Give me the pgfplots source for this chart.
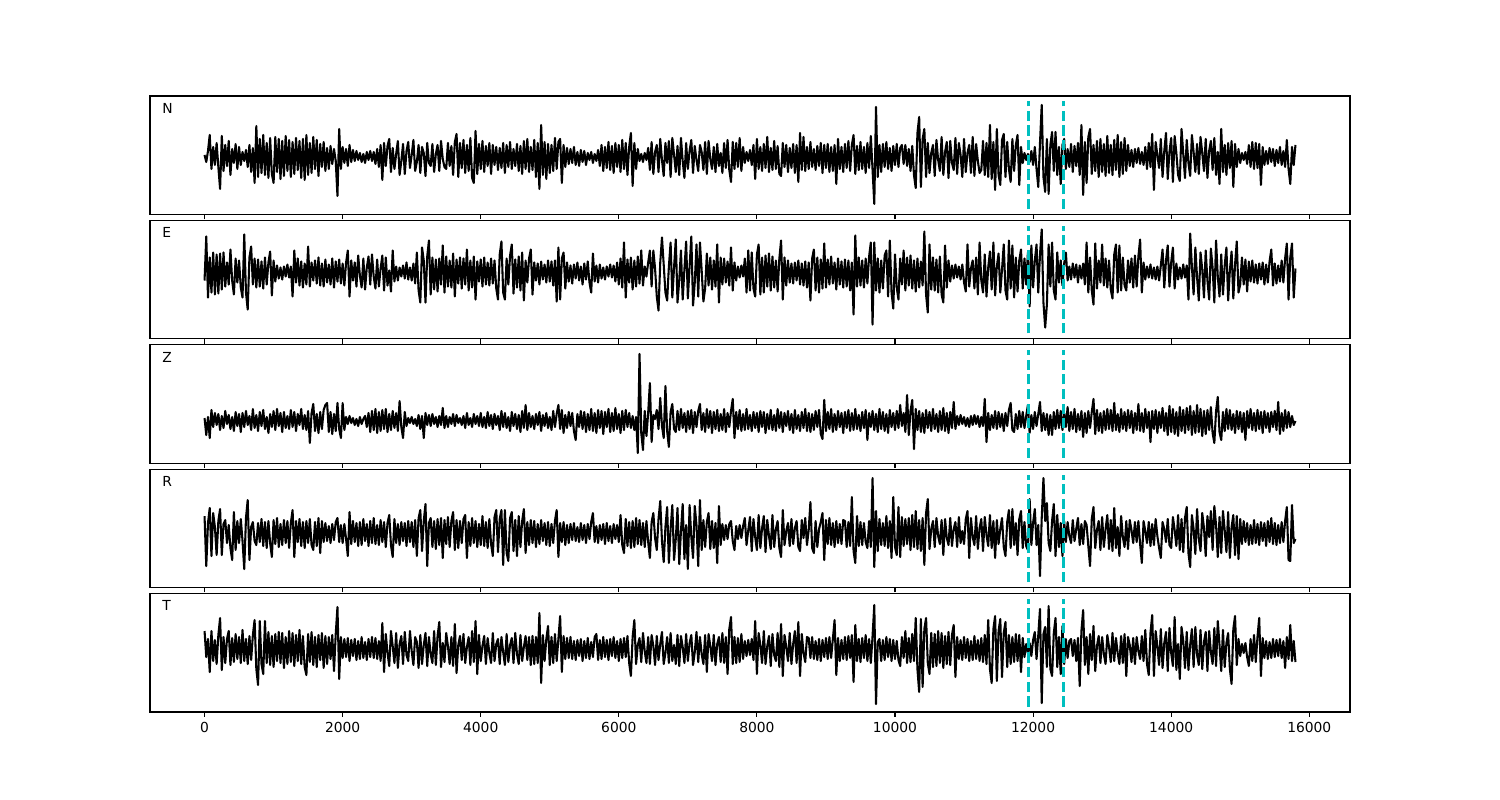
\documentclass[border=0pt]{standalone}
\usepackage{fontspec}
\setmainfont{DejaVu Sans}
\usepackage{pgfplots}
\usepackage{pgfplotstable}
\pgfplotsset{compat=1.18}
\definecolor{mplcyan}{rgb}{0,0.75,0.75}

% samples every 25 units, x = 0 ... 15800; amplitudes in plot units
\pgfplotstableread[row sep=\\]{
y\\
2\\-5\\6\\22\\-12\\10\\-8\\14\\-10\\-32\\
21\\-14\\12\\-9\\16\\-18\\8\\-6\\13\\-12\\
10\\-8\\5\\-4\\7\\-10\\12\\-15\\9\\-26\\
31\\-20\\18\\-16\\22\\-18\\14\\-21\\19\\-17\\
-26\\20\\-15\\18\\-22\\16\\-19\\21\\-14\\17\\
-20\\15\\-17\\19\\-13\\16\\-21\\18\\-23\\22\\
-18\\14\\-16\\20\\-12\\17\\-19\\13\\-10\\15\\
-14\\9\\-12\\11\\-7\\8\\-4\\-39\\28\\-12\\
10\\-6\\8\\-9\\12\\-5\\7\\-4\\6\\-3\\
4\\-5\\3\\-6\\5\\-3\\6\\-4\\5\\-7\\
8\\-10\\12\\-23\\14\\-9\\11\\18\\-15\\9\\
-12\\3\\16\\-18\\-4\\13\\-17\\6\\15\\-11\\
2\\17\\-14\\-5\\12\\-16\\10\\4\\-19\\14\\
-6\\-9\\13\\-15\\3\\12\\-14\\16\\-2\\-10\\
-12\\14\\-9\\11\\-18\\15\\23\\-20\\14\\-11\\
17\\-16\\12\\-14\\19\\-21\\-26\\26\\-17\\13\\
-12\\16\\-15\\11\\-9\\14\\-17\\12\\-8\\10\\
-13\\9\\-11\\14\\-16\\12\\-10\\15\\-12\\8\\
-9\\13\\-14\\11\\-17\\16\\-12\\18\\-15\\10\\
-13\\17\\-20\\14\\-32\\32\\-18\\15\\-22\\13\\
-16\\12\\-14\\19\\-12\\15\\18\\-26\\12\\-10\\
9\\-7\\8\\-6\\10\\-8\\5\\-9\\7\\-5\\
6\\-8\\4\\-3\\5\\-6\\3\\-4\\7\\-9\\
12\\-14\\10\\-11\\15\\-13\\11\\-16\\14\\-10\\
12\\-15\\17\\-12\\14\\-18\\10\\24\\-29\\14\\
-12\\8\\-4\\3\\-5\\4\\-3\\9\\-13\\15\\
-17\\5\\12\\-15\\18\\-3\\-19\\14\\-6\\16\\
-20\\19\\2\\-15\\11\\-18\\19\\-4\\-21\\14\\
-12\\6\\17\\-16\\11\\-3\\-14\\12\\5\\-13\\
15\\-17\\16\\-2\\-12\\10\\-15\\13\\-9\\4\\
-16\\14\\-11\\17\\-13\\-25\\15\\-12\\14\\-10\\
19\\-14\\10\\-6\\5\\-4\\7\\-8\\12\\-22\\
18\\-12\\10\\-14\\13\\-11\\20\\-15\\9\\-13\\
16\\-12\\11\\-17\\-19\\14\\-10\\12\\-15\\9\\
-11\\13\\-16\\12\\-25\\24\\-13\\20\\-14\\10\\
-12\\15\\-10\\8\\-13\\11\\-9\\14\\-16\\12\\
-11\\13\\-15\\10\\-14\\12\\-27\\18\\-12\\10\\
-15\\13\\-11\\16\\-14\\12\\22\\-17\\11\\-13\\
15\\-12\\10\\-16\\14\\-11\\21\\-13\\-47\\50\\
-20\\12\\-15\\13\\-10\\15\\-12\\9\\-14\\11\\
-8\\13\\-10\\9\\12\\-7\\12\\-9\\8\\-14\\
11\\-18\\-31\\24\\40\\-30\\18\\28\\-20\\14\\
-16\\4\\12\\-19\\17\\-3\\-14\\20\\-18\\5\\
15\\-21\\16\\-6\\-13\\19\\-17\\14\\2\\-20\\
18\\-15\\4\\12\\-16\\20\\-19\\13\\-4\\-16\\
-13\\16\\-18\\14\\-20\\32\\-22\\15\\-33\\28\\
-18\\-28\\17\\23\\-20\\15\\-12\\-25\\18\\-14\\
12\\22\\-28\\10\\-6\\4\\-3\\3\\-5\\6\\
-8\\10\\-12\\-30\\14\\52\\-20\\-35\\18\\-37\\
12\\25\\-14\\25\\-18\\10\\-27\\12\\18\\-12\\
8\\-10\\13\\-15\\11\\-9\\14\\-18\\32\\-38\\
15\\-26\\20\\28\\-17\\12\\-14\\16\\-20\\18\\
-15\\13\\-19\\21\\-16\\12\\-18\\17\\-13\\22\\
-20\\15\\-17\\19\\-14\\12\\-9\\7\\-10\\8\\
-6\\9\\-7\\5\\-8\\10\\-12\\14\\-10\\23\\
-33\\15\\2\\-11\\18\\-20\\6\\24\\-22\\5\\
19\\-25\\21\\4\\-18\\-24\\28\\3\\-21\\17\\
-6\\-19\\22\\5\\-15\\13\\-17\\20\\4\\-14\\
18\\-21\\6\\16\\-13\\19\\-18\\5\\-27\\28\\
-15\\12\\-18\\14\\-11\\16\\-30\\13\\-10\\8\\
-6\\4\\-3\\5\\-7\\12\\-10\\15\\-12\\14\\
-11\\13\\-28\\10\\-8\\6\\-7\\9\\-5\\8\\
-9\\7\\-6\\10\\-8\\6\\-10\\17\\-12\\-27\\
10\\-8\\12\\
}\tN

\pgfplotstableread[row sep=\\]{
y\\
-8\\36\\-25\\15\\-20\\20\\-22\\18\\-21\\19\\
-17\\20\\-14\\10\\-12\\23\\-8\\-22\\14\\-10\\
12\\-15\\-25\\38\\-20\\-37\\15\\26\\-12\\14\\
-15\\13\\-14\\11\\-16\\15\\-12\\10\\21\\-23\\
12\\-9\\7\\-6\\5\\-7\\6\\-4\\8\\-5\\
6\\-24\\22\\-10\\14\\-13\\11\\-15\\9\\-12\\
26\\-14\\10\\-8\\12\\-11\\15\\-13\\9\\-14\\
13\\-10\\8\\-12\\14\\-15\\11\\-9\\13\\-11\\
9\\-13\\10\\22\\-24\\12\\-8\\10\\-14\\17\\
-3\\-15\\14\\-17\\5\\16\\-12\\18\\-4\\-16\\
13\\-14\\4\\17\\-18\\15\\-13\\2\\-19\\22\\
-9\\6\\-8\\5\\-4\\7\\-6\\10\\-7\\5\\
-8\\9\\-11\\20\\-18\\-30\\25\\12\\-30\\16\\
32\\-22\\15\\-17\\13\\-19\\14\\-12\\27\\-20\\
16\\-14\\12\\-15\\19\\-24\\13\\-11\\15\\-16\\
14\\-12\\23\\-18\\12\\-15\\16\\-27\\11\\-9\\
13\\-14\\15\\-12\\10\\-13\\14\\-11\\12\\-16\\
-27\\18\\31\\-20\\-27\\14\\-12\\17\\28\\-21\\
13\\-15\\16\\-18\\20\\-28\\12\\-10\\14\\23\\
-22\\10\\-8\\9\\-12\\11\\-7\\8\\-10\\12\\
-9\\11\\-13\\12\\-29\\25\\-27\\14\\20\\-16\\
10\\-9\\7\\-11\\8\\-6\\10\\-8\\6\\-12\\
9\\-7\\11\\-10\\-20\\19\\-9\\7\\-10\\8\\
-6\\5\\-7\\6\\-4\\8\\-5\\7\\-9\\10\\
-12\\14\\-15\\30\\-25\\13\\-10\\15\\-17\\12\\
-14\\16\\-11\\22\\-13\\6\\-4\\10\\22\\-14\\
22\\4\\-24\\-38\\10\\35\\8\\-20\\-28\\6\\
30\\-25\\5\\33\\-30\\-8\\22\\-27\\3\\31\\
-26\\6\\36\\-33\\-10\\28\\-24\\30\\2\\-29\\
-16\\19\\-13\\15\\-17\\12\\-14\\28\\-30\\15\\
-12\\14\\-10\\11\\-13\\25\\-18\\10\\-8\\6\\
-5\\7\\-4\\14\\-20\\22\\-18\\20\\-16\\-24\\
18\\28\\-22\\15\\-20\\17\\-14\\19\\-18\\16\\
-15\\12\\-19\\14\\32\\-27\\15\\-13\\12\\-10\\
9\\-11\\10\\-8\\12\\-12\\9\\-13\\11\\-15\\
10\\-28\\14\\23\\-18\\15\\-20\\13\\-16\\29\\
-15\\13\\-12\\16\\-11\\10\\-17\\14\\-12\\11\\
-15\\13\\-14\\12\\-18\\10\\-42\\37\\-14\\15\\
-13\\12\\-15\\14\\-11\\16\\30\\-52\\30\\-18\\
14\\-20\\12\\-16\\17\\22\\-24\\32\\-20\\-36\\
18\\-15\\-27\\14\\-12\\22\\-18\\15\\-13\\17\\
-16\\12\\-19\\14\\-15\\11\\-13\\41\\-22\\-40\\
28\\-17\\15\\-18\\13\\-20\\16\\-22\\-30\\27\\
-15\\12\\-9\\7\\-6\\8\\-5\\6\\-7\\8\\
-10\\-19\\28\\-14\\4\\12\\-16\\15\\-22\\30\\
-8\\-20\\18\\-24\\5\\21\\-17\\30\\-23\\6\\
19\\-20\\3\\28\\-18\\-27\\32\\-16\\27\\-25\\
15\\-19\\12\\23\\-16\\14\\-12\\20\\-34\\27\\
-15\\12\\28\\-20\\18\\43\\-30\\-55\\-32\\28\\
-14\\30\\-18\\-27\\20\\-10\\12\\-13\\9\\20\\
-8\\6\\-7\\9\\-5\\8\\-10\\7\\-6\\9\\
-12\\30\\-20\\15\\-18\\-32\\29\\-16\\12\\-10\\
28\\-13\\14\\-15\\12\\-17\\-26\\18\\28\\-20\\
27\\-18\\15\\-13\\-18\\12\\-10\\14\\-15\\17\\
-14\\16\\33\\-20\\10\\-7\\6\\-5\\8\\-6\\
5\\-7\\6\\-8\\7\\23\\-15\\12\\27\\-14\\
10\\25\\-16\\9\\-7\\5\\-6\\8\\-5\\7\\
-27\\39\\6\\-22\\25\\-5\\-28\\20\\3\\-25\\
22\\-8\\-27\\24\\5\\-30\\32\\-4\\-24\\18\\
-22\\7\\25\\-28\\2\\21\\-26\\8\\31\\-20\\
-12\\15\\-12\\13\\-19\\11\\-9\\12\\-10\\8\\
-11\\9\\-7\\10\\-12\\8\\-10\\11\\23\\-13\\
9\\-11\\7\\-9\\12\\-10\\14\\29\\-27\\15\\
29\\-25\\4\\
}\tE

\pgfplotstableread[row sep=\\]{
y\\
3\\-14\\4\\-17\\11\\-6\\8\\-4\\7\\-9\\
5\\-7\\10\\-3\\6\\-8\\4\\-10\\9\\-5\\
7\\-11\\8\\-6\\10\\-4\\5\\-9\\12\\-7\\
6\\-10\\9\\-5\\11\\-8\\4\\-12\\7\\-6\\
10\\-9\\12\\-5\\8\\-11\\9\\-7\\5\\-8\\
11\\-6\\9\\-10\\7\\-4\\12\\-8\\6\\-9\\
10\\-22\\8\\17\\-10\\7\\-12\\9\\-8\\11\\
16\\18\\-11\\9\\-13\\7\\-10\\18\\-8\\-17\\
18\\-9\\4\\-3\\5\\-2\\3\\-4\\2\\-5\\
4\\-3\\2\\5\\-6\\8\\-11\\10\\-9\\12\\
-12\\9\\-10\\11\\-8\\12\\-11\\7\\-9\\10\\
-7\\8\\-10\\20\\-6\\-17\\9\\-5\\3\\-2\\
4\\-3\\2\\-5\\6\\-8\\5\\-17\\8\\-4\\
6\\-5\\7\\-3\\4\\-6\\5\\-4\\13\\-7\\
5\\-6\\4\\-3\\7\\-5\\6\\-2\\3\\-4\\
5\\-7\\8\\-4\\3\\-6\\7\\-3\\5\\-5\\
8\\-6\\4\\-7\\9\\-5\\6\\-8\\7\\-4\\
5\\-9\\10\\-6\\8\\-7\\4\\-10\\9\\-5\\
7\\-8\\6\\-11\\10\\-7\\16\\-9\\8\\-6\\
5\\-8\\7\\-4\\9\\-10\\6\\-5\\8\\-7\\
4\\-9\\10\\-6\\7\\16\\-8\\11\\-12\\6\\
-7\\9\\-5\\8\\-10\\-19\\7\\-6\\10\\-8\\
9\\-11\\7\\-9\\12\\-10\\8\\-12\\11\\-7\\
10\\-13\\9\\-6\\12\\-11\\8\\-10\\13\\-8\\
7\\-12\\10\\-9\\11\\-6\\8\\-7\\5\\-9\\
4\\-32\\67\\-12\\-29\\10\\-15\\8\\38\\-21\\
6\\2\\11\\-8\\23\\-5\\-17\\35\\-10\\-26\\
9\\17\\-8\\-11\\10\\-9\\12\\-7\\8\\-11\\
10\\-8\\11\\-12\\9\\-6\\10\\17\\-9\\8\\
-11\\12\\-7\\10\\-12\\9\\-8\\11\\-10\\7\\
-9\\12\\-11\\8\\-6\\10\\22\\-17\\9\\-8\\
11\\-10\\7\\-9\\12\\-8\\6\\-10\\9\\-7\\
8\\-11\\10\\-6\\9\\-12\\7\\-8\\11\\-9\\
6\\-10\\12\\-7\\9\\-11\\8\\-5\\10\\-9\\
7\\-12\\11\\-8\\6\\-10\\9\\-7\\12\\-10\\
8\\-11\\7\\-9\\10\\-6\\11\\-13\\-18\\21\\
-10\\9\\-8\\12\\-11\\7\\-9\\10\\-6\\8\\
-12\\9\\-7\\11\\-10\\8\\-9\\12\\-8\\6\\
-10\\9\\-7\\11\\-19\\8\\-6\\10\\-9\\7\\
-11\\12\\-8\\9\\-10\\7\\-12\\11\\-6\\8\\
-9\\10\\-7\\16\\-5\\8\\-11\\26\\-14\\10\\
21\\-28\\12\\-9\\10\\-11\\8\\-12\\11\\-7\\
9\\-10\\12\\-8\\7\\-11\\10\\-9\\13\\-10\\
8\\-12\\9\\-7\\19\\-8\\5\\-4\\6\\-3\\
4\\-5\\3\\-6\\5\\-4\\6\\-3\\5\\-6\\
4\\-5\\22\\-21\\8\\-9\\6\\-7\\10\\-8\\
9\\-6\\7\\-10\\8\\-5\\11\\18\\-9\\-11\\
7\\-8\\10\\-6\\9\\-7\\5\\16\\-12\\6\\
-8\\9\\-5\\7\\19\\-10\\8\\-9\\7\\-14\\
6\\-14\\9\\-8\\11\\-7\\10\\-9\\8\\-6\\
14\\-10\\9\\-8\\12\\-11\\7\\-9\\10\\-16\\
8\\-12\\10\\-7\\9\\22\\-13\\11\\-10\\8\\
-12\\10\\-9\\12\\-8\\11\\-10\\18\\-9\\7\\
-11\\12\\-8\\9\\-10\\11\\-7\\10\\-12\\8\\
-9\\17\\-10\\8\\-11\\12\\-7\\9\\-21\\10\\
-8\\11\\-12\\9\\-7\\13\\-10\\8\\-14\\15\\
-11\\12\\-13\\9\\-15\\14\\-10\\11\\-12\\13\\
-9\\15\\-14\\10\\-12\\16\\-11\\12\\-15\\10\\
-13\\11\\-9\\14\\-12\\-22\\10\\24\\-11\\-19\\
9\\-10\\12\\-8\\11\\-9\\7\\-12\\10\\-8\\
9\\-11\\8\\-19\\10\\-7\\12\\-9\\8\\-10\\
11\\-8\\9\\-12\\10\\-7\\8\\-11\\9\\-6\\
10\\-9\\19\\-13\\8\\-10\\11\\-7\\9\\-6\\
5\\-4\\0\\
}\tZ

\pgfplotstableread[row sep=\\]{
y\\
17\\-33\\10\\25\\-23\\20\\6\\-22\\12\\24\\
-22\\9\\13\\-10\\8\\-15\\-27\\21\\-17\\12\\
-10\\14\\-8\\-36\\15\\33\\-27\\6\\11\\-8\\
-12\\10\\-9\\14\\-13\\11\\-15\\12\\-10\\-24\\
13\\-11\\15\\-14\\9\\-12\\13\\-10\\12\\-15\\
10\\23\\-24\\12\\-9\\14\\-13\\11\\-15\\12\\
-10\\14\\-12\\-17\\11\\-13\\15\\-20\\12\\-9\\
10\\-8\\7\\-10\\9\\-7\\11\\15\\-9\\8\\
-10\\9\\-6\\-23\\21\\-11\\12\\-9\\10\\-13\\
11\\-12\\14\\-8\\9\\-13\\12\\-10\\15\\-11\\
8\\-12\\13\\-9\\11\\-14\\10\\18\\-12\\-24\\
14\\-10\\9\\-12\\11\\-8\\10\\-13\\12\\-9\\
11\\-14\\13\\-23\\15\\23\\-18\\12\\29\\-33\\
10\\15\\-14\\12\\-16\\14\\-12\\15\\-25\\13\\
-11\\16\\-14\\12\\21\\-17\\13\\-15\\12\\-10\\
14\\18\\-25\\11\\-13\\15\\-10\\12\\-14\\9\\
-12\\17\\-13\\11\\-15\\14\\-11\\-23\\16\\23\\
-19\\14\\23\\-32\\23\\-20\\-28\\15\\21\\-18\\
13\\-23\\17\\-14\\12\\24\\-20\\11\\-12\\13\\
-10\\12\\-14\\9\\-11\\13\\-8\\10\\-12\\11\\
-13\\9\\-10\\12\\23\\-24\\10\\-9\\11\\-12\\
8\\-10\\9\\-7\\10\\-8\\6\\-9\\10\\-7\\
8\\-10\\9\\-6\\11\\20\\-9\\7\\-10\\8\\
-7\\9\\-11\\10\\-8\\7\\-10\\9\\-6\\8\\
-9\\18\\-12\\-20\\14\\-13\\11\\-15\\12\\-14\\
15\\-11\\13\\-12\\10\\-14\\12\\-9\\-25\\11\\
20\\-5\\-17\\14\\32\\-8\\-29\\6\\26\\-30\\
4\\28\\-27\\-6\\25\\-31\\2\\29\\-26\\8\\
-36\\28\\-4\\-25\\27\\8\\-33\\33\\-17\\13\\
-14\\11\\20\\-16\\12\\-15\\10\\-30\\27\\-12\\
9\\-7\\8\\-6\\9\\12\\-8\\-17\\7\\-6\\
8\\-5\\7\\15\\-12\\3\\16\\-18\\14\\-4\\
-17\\18\\-15\\5\\17\\-19\\13\\-3\\-16\\18\\
-14\\4\\12\\-15\\-24\\23\\-12\\2\\10\\-13\\
14\\-11\\5\\12\\-14\\-18\\13\\-5\\15\\-12\\
3\\31\\-15\\-20\\12\\-14\\4\\11\\20\\-27\\
13\\-11\\15\\-12\\10\\-14\\12\\-10\\9\\-11\\
13\\12\\-14\\11\\-13\\36\\-18\\-30\\17\\-13\\
11\\-12\\10\\-9\\-15\\12\\-14\\55\\-34\\22\\
-18\\14\\-12\\10\\-13\\17\\-15\\12\\-25\\36\\
-14\\-22\\26\\-24\\16\\-13\\14\\-11\\15\\-17\\
18\\-14\\22\\-16\\13\\-18\\15\\-32\\20\\34\\
-16\\4\\12\\-14\\15\\-3\\-11\\13\\-22\\14\\
-5\\-12\\15\\-13\\4\\11\\-14\\16\\-10\\2\\
-11\\14\\22\\-25\\15\\-4\\-12\\17\\-16\\5\\
14\\-18\\16\\-2\\-13\\18\\-15\\12\\-25\\13\\
-11\\4\\15\\-14\\-23\\11\\23\\-15\\24\\-12\\
10\\-22\\14\\22\\-15\\11\\-13\\-17\\34\\-12\\
10\\24\\-12\\8\\-43\\15\\55\\12\\30\\-10\\
-18\\12\\29\\-23\\18\\-14\\10\\-23\\12\\-9\\
11\\-3\\-10\\13\\-8\\4\\15\\-12\\9\\-11\\
12\\8\\-13\\-33\\14\\26\\-15\\3\\12\\-17\\
16\\-14\\4\\18\\-16\\13\\-18\\25\\-15\\6\\
-23\\17\\-4\\-14\\12\\-16\\13\\3\\-10\\11\\
-9\\12\\-11\\-30\\12\\2\\-10\\11\\-13\\9\\
-12\\14\\-3\\-15\\-25\\11\\4\\-9\\14\\-12\\
-15\\16\\3\\-13\\18\\-17\\14\\-19\\15\\26\\
-20\\-34\\18\\4\\-21\\24\\-6\\-18\\20\\5\\
-23\\17\\-4\\22\\-17\\27\\8\\-24\\16\\-20\\
22\\3\\-19\\21\\-25\\6\\18\\-22\\17\\-26\\
14\\-11\\12\\-9\\10\\-12\\8\\-11\\13\\-10\\
9\\-12\\11\\-8\\10\\-13\\12\\-9\\15\\-11\\
10\\-12\\8\\-10\\11\\-9\\12\\26\\-27\\-28\\
28\\-10\\-6\\
}\tR

\pgfplotstableread[row sep=\\]{
y\\
18\\-8\\10\\-23\\18\\-12\\9\\-15\\14\\31\\
-21\\12\\-14\\10\\18\\-16\\11\\-13\\15\\-10\\
12\\-14\\19\\-12\\10\\-15\\13\\-11\\14\\29\\
-20\\-36\\28\\-15\\-25\\28\\-14\\17\\-16\\13\\
-18\\15\\-12\\17\\-14\\16\\-19\\12\\-15\\18\\
-13\\16\\-17\\14\\-12\\19\\-15\\13\\-18\\-26\\
15\\-13\\17\\-16\\12\\-18\\14\\-11\\16\\-19\\
13\\-15\\12\\-10\\14\\-22\\15\\42\\-30\\12\\
-9\\10\\-8\\11\\-12\\9\\-7\\10\\-11\\8\\
-10\\12\\-9\\7\\-11\\10\\-8\\12\\-9\\11\\
-10\\8\\-12\\26\\-23\\15\\-4\\-17\\18\\3\\
-14\\16\\-19\\5\\13\\-15\\17\\-6\\-12\\18\\
-2\\-16\\12\\7\\-19\\14\\-15\\4\\16\\-17\\
12\\-5\\-14\\18\\-16\\13\\27\\-18\\6\\-13\\
16\\3\\-15\\12\\-17\\25\\-24\\4\\13\\-11\\
15\\-14\\2\\12\\-16\\18\\-13\\28\\-25\\14\\
-12\\3\\13\\-15\\11\\-4\\-14\\16\\-12\\5\\
10\\-15\\12\\-3\\-16\\15\\-13\\4\\11\\-14\\
16\\-5\\-15\\14\\-12\\2\\13\\-11\\12\\-16\\
13\\-15\\12\\-14\\36\\-34\\14\\-12\\10\\23\\
-16\\12\\-14\\15\\-12\\10\\33\\-23\\13\\-10\\
11\\-9\\12\\-10\\8\\-11\\9\\-7\\10\\-12\\
8\\-9\\11\\-10\\7\\-8\\12\\15\\-11\\9\\
-10\\12\\-8\\9\\-11\\10\\-7\\12\\-9\\8\\
-12\\10\\-9\\11\\-8\\13\\-14\\-27\\12\\29\\
-15\\4\\11\\-13\\16\\-2\\-14\\12\\-15\\14\\
3\\-16\\13\\-11\\5\\17\\-15\\-4\\12\\-14\\
16\\-12\\4\\-15\\14\\-17\\13\\2\\-14\\15\\
-12\\6\\14\\-16\\-3\\17\\-13\\12\\-5\\-15\\
14\\-23\\15\\3\\-12\\14\\-16\\5\\12\\-13\\
16\\-14\\12\\-25\\20\\32\\-15\\12\\-14\\11\\
-13\\15\\-10\\8\\-7\\9\\-6\\10\\-11\\28\\
-25\\16\\4\\-14\\18\\-15\\3\\13\\-17\\15\\
-6\\-12\\16\\-18\\25\\-27\\14\\2\\-12\\16\\
-15\\5\\18\\-14\\27\\-27\\15\\-4\\-13\\12\\
11\\-9\\12\\-10\\8\\-11\\10\\-12\\9\\-8\\
11\\-10\\12\\-9\\10\\29\\-26\\11\\-12\\9\\
-10\\12\\-11\\13\\-9\\14\\-33\\24\\-12\\10\\
-13\\11\\-9\\14\\-12\\10\\-14\\13\\44\\-55\\
7\\10\\-12\\9\\-11\\12\\-8\\10\\-12\\9\\
-10\\8\\-11\\-17\\12\\-9\\18\\-14\\11\\-13\\
15\\-12\\31\\-20\\-43\\30\\-38\\20\\31\\-14\\
-25\\16\\-18\\15\\-17\\18\\-14\\16\\-19\\13\\
-15\\17\\-16\\14\\24\\-28\\12\\-10\\9\\-11\\
12\\-9\\10\\-12\\8\\-11\\13\\-10\\9\\-12\\
11\\-13\\14\\-15\\29\\-20\\-34\\20\\33\\-32\\
18\\30\\-28\\16\\27\\-18\\14\\-15\\12\\-13\\
15\\-12\\14\\-23\\11\\-8\\5\\-4\\6\\-7\\
9\\17\\-10\\14\\40\\-54\\15\\22\\-18\\43\\
-20\\-27\\16\\31\\-18\\12\\-25\\23\\-15\\10\\
-9\\8\\10\\-7\\9\\-12\\11\\-37\\18\\39\\
-16\\12\\-25\\15\\-11\\23\\-22\\3\\13\\-14\\
12\\-5\\-15\\14\\2\\-13\\16\\-12\\11\\-4\\
-15\\13\\-14\\15\\-27\\12\\4\\-13\\11\\-15\\
12\\-2\\-10\\13\\-12\\19\\-15\\-26\\16\\34\\
-27\\18\\3\\-16\\20\\-19\\6\\17\\-22\\21\\
-4\\-17\\32\\-21\\5\\-30\\22\\8\\-19\\17\\
-21\\4\\20\\-18\\22\\-6\\-16\\19\\-20\\7\\
17\\-22\\18\\-3\\-15\\21\\-17\\28\\4\\-22\\
19\\-18\\6\\16\\-20\\-35\\20\\33\\-16\\10\\
-7\\5\\-4\\6\\-8\\-17\\10\\-12\\14\\-13\\
12\\31\\-27\\11\\-9\\8\\-10\\7\\-9\\10\\
-8\\9\\-7\\10\\-9\\8\\-19\\12\\-10\\24\\
-12\\8\\-13\\
}\tT

\pgfplotsset{
  seis/.style={
    scale only axis, width=12in, height=1.1846in,
    anchor=south west,
    xmin=-790, xmax=16590,
    xtick={0,2000,4000,6000,8000,10000,12000,14000,16000},
    ytick=\empty,
    xtick pos=left,
    tick align=outside,
    major tick length=3.5pt,
    every tick/.style={black, line width=0.8pt},
    axis line style={line width=0.8pt},
    scaled x ticks=false,
    xticklabel style={font=\fontsize{10}{12}\selectfont, text=black},
    /pgf/number format/assume math mode=true,
    /pgf/number format/1000 sep={},
    clip=true,
  },
  tr/.style={black, line width=1.5pt, line join=round, no markers},
  vl/.style={mplcyan, line width=2pt, dash pattern=on 7.4pt off 3.2pt, no markers},
}
\tikzset{lab/.style={anchor=base west, inner sep=0pt, font=\fontsize{10}{12}\selectfont}}

\begin{document}
\begin{tikzpicture}
\path[use as bounding box] (0,0) rectangle (15in,8in);

\begin{axis}[seis, at={(1.5in,5.8554in)}, ymin=-57.5, ymax=61, xticklabels={}]
\addplot[tr] table[x expr=\coordindex*25, y=y]{\tN};
\addplot[vl] coordinates {(11930,-52.1) (11930,55.6)};
\addplot[vl] coordinates {(12440,-52.1) (12440,55.6)};
\node[lab] at (rel axis cs:0.01,0.854) {N};
\end{axis}

\begin{axis}[seis, at={(1.5in,4.6115in)}, ymin=-66.3, ymax=52.1, xticklabels={}]
\addplot[tr] table[x expr=\coordindex*25, y=y]{\tE};
\addplot[vl] coordinates {(11930,-60.9) (11930,46.7)};
\addplot[vl] coordinates {(12440,-60.9) (12440,46.7)};
\node[lab] at (rel axis cs:0.01,0.854) {E};
\end{axis}

\begin{axis}[seis, at={(1.5in,3.3677in)}, ymin=-42.2, ymax=76.2, xticklabels={}]
\addplot[tr] table[x expr=\coordindex*25, y=y]{\tZ};
\addplot[vl] coordinates {(11930,-36.8) (11930,70.8)};
\addplot[vl] coordinates {(12440,-36.8) (12440,70.8)};
\node[lab] at (rel axis cs:0.01,0.854) {Z};
\end{axis}

\begin{axis}[seis, at={(1.5in,2.1238in)}, ymin=-54.6, ymax=63.9, xticklabels={}]
\addplot[tr] table[x expr=\coordindex*25, y=y]{\tR};
\addplot[vl] coordinates {(11930,-49.2) (11930,58.5)};
\addplot[vl] coordinates {(12440,-49.2) (12440,58.5)};
\node[lab] at (rel axis cs:0.01,0.854) {R};
\end{axis}

\begin{axis}[seis, at={(1.5in,0.88in)}, ymin=-63, ymax=55.5]
\addplot[tr] table[x expr=\coordindex*25, y=y]{\tT};
\addplot[vl] coordinates {(11930,-57.6) (11930,50.1)};
\addplot[vl] coordinates {(12440,-57.6) (12440,50.1)};
\node[lab] at (rel axis cs:0.01,0.854) {T};
\end{axis}
\end{tikzpicture}
\end{document}
